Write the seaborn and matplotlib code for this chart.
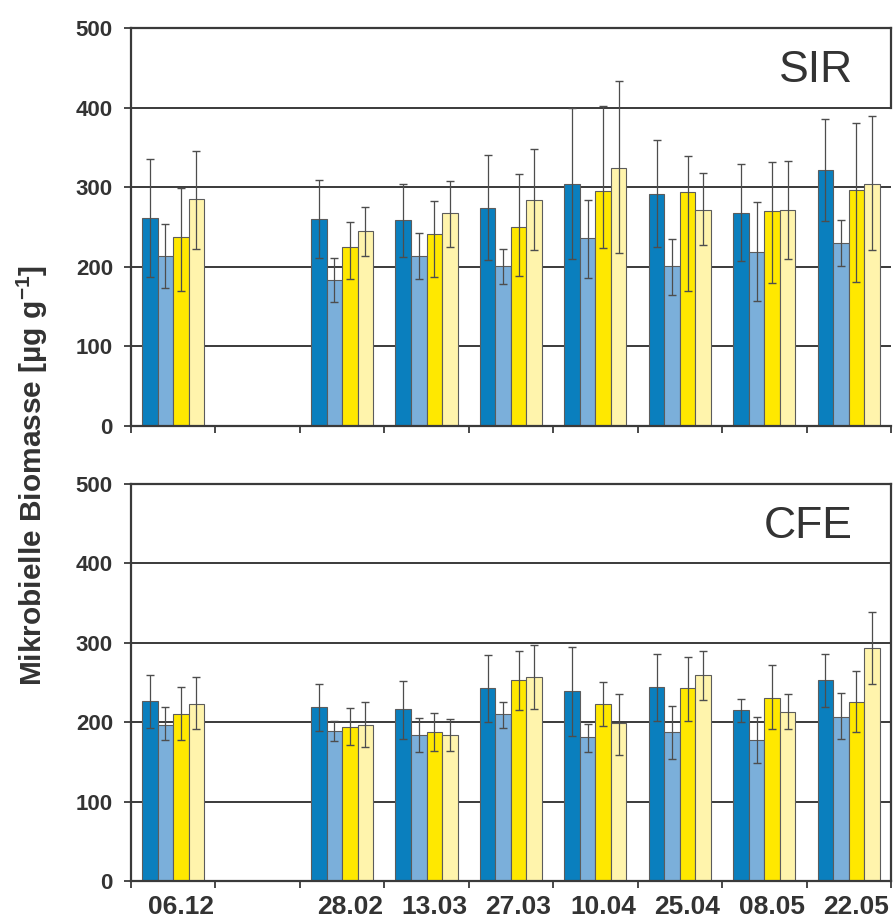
import matplotlib
matplotlib.use("Agg")
import matplotlib.pyplot as plt
import numpy as np
import pandas as pd
import seaborn as sns

# Sampling dates (empty slot = gap in the series)
dates = ["06.12", "", "28.02", "13.03", "27.03", "10.04", "25.04", "08.05", "22.05"]
measured = [d for d in dates if d]

variants = ["Variante 1", "Variante 2", "Variante 3", "Variante 4"]
colors = ["#0A7FBE", "#7BAFDA", "#FFE800", "#FFF4AC"]

# SIR: means and lower / upper error
sir_v1 = [261, 260, 259, 274, 304, 292, 268, 322]
sir_v2 = [214, 183, 214, 201, 236, 201, 219, 230]
sir_v3 = [237, 225, 241, 250, 295, 294, 270, 296]
sir_v4 = [285, 245, 267, 284, 324, 272, 272, 304]
sir_v1_lo = [74, 49, 47, 66, 94, 67, 61, 64]
sir_v1_hi = [74, 49, 45, 66, 95, 67, 61, 64]
sir_v2_lo = [40, 27, 29, 22, 50, 36, 62, 29]
sir_v2_hi = [40, 28, 29, 22, 48, 34, 63, 29]
sir_v3_lo = [67, 40, 54, 62, 71, 124, 90, 115]
sir_v3_hi = [62, 31, 42, 66, 107, 45, 62, 85]
sir_v4_lo = [62, 31, 42, 63, 107, 44, 62, 83]
sir_v4_hi = [61, 30, 41, 64, 109, 46, 61, 86]

# CFE: means and lower / upper error
cfe_v1 = [227, 219, 216, 243, 239, 244, 215, 253]
cfe_v2 = [197, 189, 184, 210, 181, 188, 177, 207]
cfe_v3 = [210, 194, 188, 253, 223, 243, 231, 226]
cfe_v4 = [223, 197, 184, 257, 199, 259, 213, 293]
cfe_v1_lo = [34, 30, 37, 43, 57, 42, 15, 34]
cfe_v1_hi = [32, 29, 36, 42, 56, 42, 14, 33]
cfe_v2_lo = [20, 13, 22, 17, 18, 34, 28, 28]
cfe_v2_hi = [22, 13, 21, 16, 17, 33, 30, 30]
cfe_v3_lo = [33, 23, 24, 38, 28, 42, 39, 38]
cfe_v3_hi = [34, 24, 24, 37, 28, 39, 41, 38]
cfe_v4_lo = [32, 28, 20, 40, 40, 31, 21, 45]
cfe_v4_hi = [34, 28, 20, 40, 37, 31, 22, 46]

y_ticks = [0, 100, 200, 300, 400, 500]

sns.set_theme(style="white")
plt.rcParams["font.family"] = ["Liberation Sans", "DejaVu Sans"]
plt.rcParams["mathtext.fontset"] = "custom"
plt.rcParams["mathtext.rm"] = "Liberation Sans:bold"
plt.rcParams["mathtext.bf"] = "Liberation Sans:bold"
plt.rcParams["mathtext.default"] = "rm"

TXT = "#333333"
LINE = "#3a3a3a"


def build_frame(means, lows, highs):
    rows = []
    for v, m, lo, hi in zip(variants, means, lows, highs):
        for d, mv, l, h in zip(measured, m, lo, hi):
            rows.append({"Datum": d, "Variante": v, "Wert": mv, "lo": l, "hi": h})
    return pd.DataFrame(rows)


def draw_panel(ax, df, title, show_labels, full_right):
    sns.barplot(data=df, x="Datum", y="Wert", hue="Variante", order=dates,
                hue_order=variants, palette=colors, saturation=1, width=0.735,
                errorbar=None, edgecolor="#5c5c5c", linewidth=0.8, legend=False,
                ax=ax, zorder=2)
    for cont, var in zip(ax.containers, variants):
        sub = df[df["Variante"] == var].set_index("Datum")
        for bar in cont:
            xc = bar.get_x() + bar.get_width() / 2
            d = dates[int(round(xc))]
            if d not in sub.index:
                continue
            r = sub.loc[d]
            ax.errorbar(xc, r["Wert"], yerr=[[r["lo"]], [r["hi"]]], fmt="none",
                        ecolor="#4d4d4d", elinewidth=0.9, capsize=3.2,
                        capthick=1.0, zorder=3)

    ax.set_xlim(-0.5, len(dates) - 0.5)
    ax.set_ylim(0, 500)
    ax.set_yticks(y_ticks)
    ax.set_yticklabels([str(t) for t in y_ticks], fontsize=16, fontweight="bold", color=TXT)
    # date labels sit slightly right of the slot centre
    ax.set_xticks(np.arange(len(dates)) + 0.09)
    if show_labels:
        ax.set_xticklabels(dates, fontsize=19, fontweight="bold", color=TXT)
    else:
        ax.set_xticklabels([])
    ax.set_xticks(np.arange(-0.5, len(dates)), minor=True)
    ax.tick_params(axis="x", which="major", bottom=True, length=0, pad=10)
    ax.tick_params(axis="x", which="minor", bottom=True, length=5, width=1.3,
                   color=LINE, direction="out")
    ax.tick_params(axis="y", which="major", left=True, length=5, width=1.3,
                   color=LINE, direction="out", pad=8)
    ax.set_xlabel("")
    ax.set_ylabel("")

    ax.set_axisbelow(True)
    ax.yaxis.grid(True, color=LINE, linewidth=1.4)
    ax.xaxis.grid(False)
    for side in ["left", "top", "bottom", "right"]:
        ax.spines[side].set_color(LINE)
        ax.spines[side].set_linewidth(1.6)
    if not full_right:
        ax.spines["right"].set_bounds(400, 500)

    ax.text(0.95, 0.893, title, transform=ax.transAxes, ha="right", va="center",
            fontsize=32, color=TXT)


fig = plt.figure(figsize=(8.94, 9.18), dpi=100)
ax_sir = fig.add_axes([0.1465, 0.5359, 0.8501, 0.4336])
ax_cfe = fig.add_axes([0.1465, 0.0403, 0.8501, 0.4325])

sir_df = build_frame([sir_v1, sir_v2, sir_v3, sir_v4],
                     [sir_v1_lo, sir_v2_lo, sir_v3_lo, sir_v4_lo],
                     [sir_v1_hi, sir_v2_hi, sir_v3_hi, sir_v4_hi])
cfe_df = build_frame([cfe_v1, cfe_v2, cfe_v3, cfe_v4],
                     [cfe_v1_lo, cfe_v2_lo, cfe_v3_lo, cfe_v4_lo],
                     [cfe_v1_hi, cfe_v2_hi, cfe_v3_hi, cfe_v4_hi])

draw_panel(ax_sir, sir_df, "SIR", show_labels=False, full_right=False)
draw_panel(ax_cfe, cfe_df, "CFE", show_labels=True, full_right=True)

fig.text(0.036, 0.4815, "Mikrobielle Biomasse [µg g$^{-1}$]", rotation=90,
         ha="center", va="center", fontsize=21.5, fontweight="bold", color=TXT)

fig.savefig("out.png", dpi=100)
